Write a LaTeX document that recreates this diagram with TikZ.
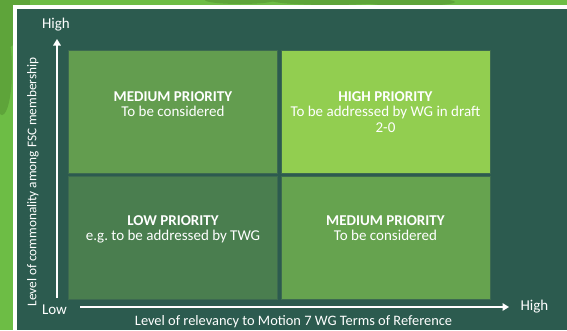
\documentclass[tikz,border=0pt]{standalone}
\usepackage{fontspec}
\setmainfont{Carlito}
\usetikzlibrary{arrows.meta}
\definecolor{leaf}{HTML}{6DBD45}
\definecolor{leafdark}{HTML}{5EA43A}
\definecolor{panel}{HTML}{2C5B4F}
\definecolor{qtl}{HTML}{639D4F}
\definecolor{qtr}{HTML}{92CE50}
\definecolor{qbl}{HTML}{4A7E4F}
\definecolor{qbr}{HTML}{66A34F}
\definecolor{qedge}{HTML}{3D6A50}
\tikzset{
  quad/.style={draw=qedge, line width=0.8pt, minimum width=209pt, minimum height=123pt, inner sep=0pt},
  qtext/.style={anchor=north, align=center, text=white, inner sep=0pt, font=\fontsize{15}{15.5}\selectfont},
  axistext/.style={text=white, inner sep=0pt, font=\fontsize{15}{16}\selectfont},
  ylabelstyle/.style={text=white, inner sep=0pt, font=\fontsize{13.3}{14}\selectfont},
  xlabelstyle/.style={text=white, inner sep=0pt, font=\fontsize{14.4}{15}\selectfont},
  axisarrow/.style={white, line width=2.2pt, -{Triangle[width=7.5pt,length=6.5pt]}}
}
\begin{document}
\frenchspacing
\begin{tikzpicture}[x=1pt,y=-1pt]
\useasboundingbox (0,0) rectangle (567,330);
% leafy background
\fill[leaf] (0,0) rectangle (567,330);
\fill[leafdark] (0,0) ellipse (30 and 50);
\fill[leafdark] (2,70) ellipse (10 and 45);
\fill[leafdark] (240,0) ellipse (35 and 4);
\fill[leafdark] (330,0) ellipse (60 and 5);
\fill[leafdark] (410,2) ellipse (45 and 4);
% white frame and dark panel
\fill[white] (13,5) rectangle (567,330);
\fill[panel] (17,9) rectangle (567,330);
% quadrants
\node[quad, fill=qtl] (tl) at (173,112) {};
\node[quad, fill=qtr] (tr) at (385.5,112) {};
\node[quad, fill=qbl] (bl) at (173,237.5) {};
\node[quad, fill=qbr] (br) at (385.5,237.5) {};
% quadrant texts
\node[qtext] (tltext) at ([yshift=-41pt]tl.north) {\textbf{MEDIUM PRIORITY}\\To be considered};
\node[qtext] (trtext) at ([yshift=-41pt]tr.north) {\textbf{HIGH PRIORITY}\\To be addressed by WG in draft\\2-0};
\node[qtext] (bltext) at ([yshift=-39.5pt]bl.north) {\textbf{LOW PRIORITY}\\e.g. to be addressed by TWG};
\node[qtext] (brtext) at ([yshift=-39.5pt]br.north) {\textbf{MEDIUM PRIORITY}\\To be considered};
% axes
\coordinate (ybot) at (57,298);
\coordinate (ytop) at (57,39);
\coordinate (xleft) at (80,307);
\coordinate (xright) at (509,307);
\draw[axisarrow] (ybot) -- (ytop);
\draw[axisarrow] (xleft) -- (xright);
\node[axistext] (yhigh) at (56,25) {High};
\node[axistext] (xlow) at (54.5,310) {Low};
\node[axistext] (xhigh) at (534.5,307) {High};
\node[ylabelstyle, rotate=90] (ylabel) at (33,182) {Level of commonality among FSC membership};
\node[xlabelstyle] (xlabel) at (293.5,322) {Level of relevancy to Motion 7 WG Terms of Reference};
\end{tikzpicture}
\end{document}
